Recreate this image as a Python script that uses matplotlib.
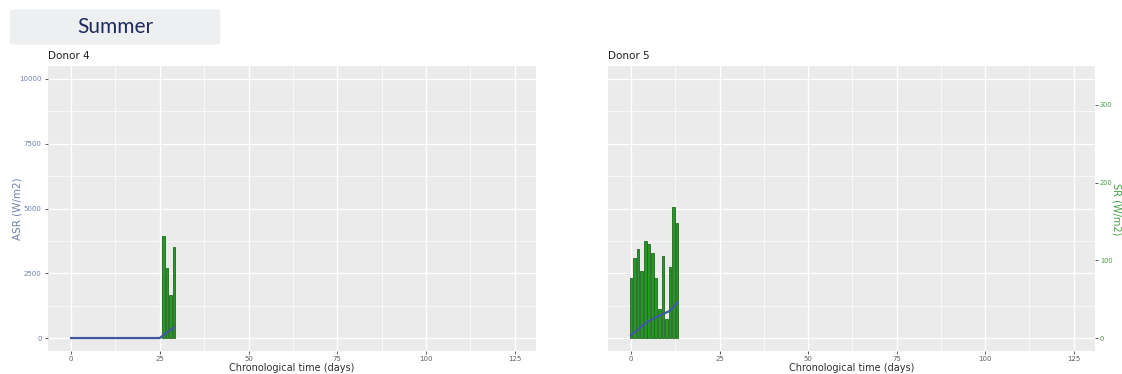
import matplotlib
matplotlib.use("Agg")
import matplotlib.pyplot as plt
from matplotlib.patches import FancyBboxPatch
from matplotlib.ticker import MultipleLocator

# Donor 4: daily SR bars (W/m2, secondary scale) and ASR line (W/m2)
d4_bar_days = [26, 27, 28, 29]
d4_sr = [131, 90, 56, 117]
d4_line_days = [0, 25, 26, 27, 28, 29]
d4_asr = [0, 0, 110, 210, 310, 410]

# Donor 5
d5_bar_days = list(range(14))
d5_sr = [77, 103, 115, 86, 125, 121, 109, 77, 37, 105, 25, 91, 168, 148]
d5_line_days = list(range(14))
d5_asr = [100, 220, 330, 450, 560, 650, 730, 800, 860, 920, 990, 1050, 1200, 1370]

x_ticks = [0, 25, 50, 75, 100, 125]
asr_ticks = [0, 2500, 5000, 7500, 10000]
sr_ticks = [0, 100, 200, 300]
SR_SCALE = 30  # ASR = SR * 30 on the shared panel scale

PANEL_BG = "#ebebeb"
BAR_FACE = "#2a962a"
BAR_EDGE = "#1b6b1b"
LINE_COL = "#3d5a9e"
ASR_COL = "#6f82ad"
SR_COL = "#46a046"

fig = plt.figure(figsize=(11.22, 3.74), dpi=100)
W, H = 1122, 374
TOP, BOTTOM = 66, 351


def px_axes(x0, y0, x1, y1):
    return fig.add_axes([x0 / W, 1 - y1 / H, (x1 - x0) / W, (y1 - y0) / H])


def style_panel(ax, title):
    ax.set_facecolor(PANEL_BG)
    ax.set_xlim(-6.5, 131)
    ax.set_ylim(-500, 10500)
    ax.set_xticks(x_ticks)
    ax.set_yticks(asr_ticks)
    ax.xaxis.set_minor_locator(MultipleLocator(12.5))
    ax.yaxis.set_minor_locator(MultipleLocator(1250))
    ax.grid(True, which="major", color="white", lw=1.0)
    ax.grid(True, which="minor", color="white", lw=0.5)
    ax.set_axisbelow(True)
    for s in ax.spines.values():
        s.set_visible(False)
    ax.tick_params(which="minor", length=0)
    ax.tick_params(axis="x", length=2.5, width=0.6, color="#444444",
                   labelsize=5, labelcolor="#606060", pad=1)
    ax.set_xlabel("Chronological time (days)", fontsize=7, color="#333333",
                  va="center")
    # axis title sits about 17 px under the panel
    ax.xaxis.set_label_coords(0.5, -17 / (BOTTOM - TOP))
    ax.set_title(title, loc="left", fontsize=7.5, color="#222222", pad=5)


def draw(ax, bar_days, sr, line_days, asr):
    ax.bar(bar_days, [v * SR_SCALE for v in sr], width=0.75,
           color=BAR_FACE, edgecolor=BAR_EDGE, linewidth=0.6, zorder=2)
    ax.plot(line_days, asr, color=LINE_COL, lw=1.6, zorder=3)


# left panel: Donor 4 with ASR axis
ax1 = px_axes(48, TOP, 536, BOTTOM)
style_panel(ax1, "Donor 4")
draw(ax1, d4_bar_days, d4_sr, d4_line_days, d4_asr)
ax1.tick_params(axis="y", length=2.5, width=0.6, color="#444444",
                labelsize=5, labelcolor=ASR_COL, pad=2)
ax1.set_ylabel("ASR (W/m2)", fontsize=7.5, color=ASR_COL, va="center")
ax1.yaxis.set_label_coords(-30 / 488, 0.5)

# right panel: Donor 5 with SR axis on the right
ax2 = px_axes(608, TOP, 1095, BOTTOM)
style_panel(ax2, "Donor 5")
draw(ax2, d5_bar_days, d5_sr, d5_line_days, d5_asr)
ax2.tick_params(axis="y", length=0, labelleft=False)
sec = ax2.secondary_yaxis("right", functions=(lambda y: y / SR_SCALE,
                                              lambda y: y * SR_SCALE))
sec.set_yticks(sr_ticks)
sec.spines["right"].set_visible(False)
sec.tick_params(length=2.5, width=0.6, color="#444444",
                labelsize=4.8, labelcolor=SR_COL, pad=1)
fig.text(1116 / W, 1 - 209 / H, "SR (W/m2)", fontsize=7, color=SR_COL,
         rotation=-90, ha="center", va="center")

# season header box
fig.patches.append(FancyBboxPatch((12 / W, 1 - 44 / H), 206 / W, 34 / H,
                                  boxstyle="round,pad=0.002,rounding_size=0.006",
                                  transform=fig.transFigure, facecolor="#eeeff1",
                                  edgecolor="none"))
fig.text(115 / W, 1 - 27 / H, "Summer", ha="center", va="center",
         fontsize=15, color="#1c2a5e", family="Lato")

fig.savefig("out.png", dpi=100)
